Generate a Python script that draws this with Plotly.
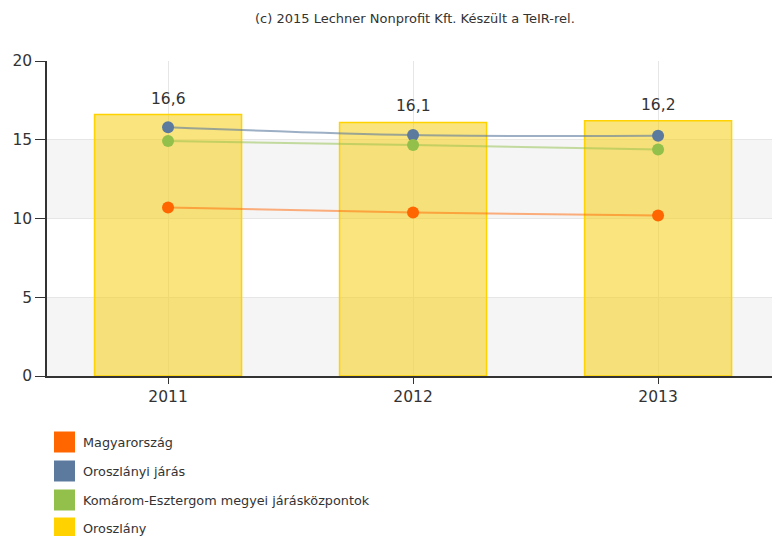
import plotly.graph_objects as go

years = ["2011", "2012", "2013"]
oroszlany = [16.6, 16.1, 16.2]
oroszlanyi_jaras = [15.8, 15.3, 15.25]
komarom = [14.92, 14.67, 14.38]
magyarorszag = [10.7, 10.38, 10.19]

legend_labels = ["Magyarország", "Oroszlányi járás",
                 "Komárom-Esztergom megyei járásközpontok", "Oroszlány"]
legend_colors = ["#FF6600", "#5C7A9E", "#92C04A", "#FFD200"]

y_ticks = [0, 5, 10, 15, 20]

FONT = "DejaVu Sans"

fig = go.Figure()

fig.add_trace(go.Bar(
    x=years, y=oroszlany, width=0.6,
    marker=dict(color="rgba(245,205,20,0.55)", line=dict(color="#FFD200", width=1.5)),
    showlegend=False, name="Oroszlány",
))

series = [
    (oroszlanyi_jaras, "rgba(92,122,158,0.6)", "#5C7A9E", "Oroszlányi járás"),
    (komarom, "rgba(146,192,74,0.5)", "#92C04A", "Komárom-Esztergom megyei járásközpontok"),
    (magyarorszag, "rgba(255,102,0,0.5)", "#FF6600", "Magyarország"),
]
for vals, lc, mc, nm in series:
    fig.add_trace(go.Scatter(
        x=years, y=vals, mode="lines+markers", name=nm,
        line=dict(color=lc, width=2, shape="spline"),
        marker=dict(color=mc, size=12),
        showlegend=False,
    ))

# plot area in page pixels: x 47..772, y 61..376
W = 725.0
H = 315.0

shapes = []
for lo, hi in [(0, 5), (10, 15)]:
    shapes.append(dict(type="rect", xref="paper", yref="y", x0=0, x1=1, y0=lo, y1=hi,
                       fillcolor="#F5F5F5", line=dict(width=0), layer="below"))

annotations = [dict(text="(c) 2015 Lechner Nonprofit Kft. Készült a TeIR-rel.",
                    xref="paper", yref="paper", x=(415 - 47) / W, y=(376 - 18) / H,
                    showarrow=False, font=dict(family=FONT, size=13, color="#333333"),
                    xanchor="center", yanchor="middle")]

for i, v in enumerate(oroszlany):
    annotations.append(dict(x=i, y=v, xref="x", yref="y",
                            text=f"{v:.1f}".replace(".", ","), showarrow=False,
                            yshift=16, yanchor="middle",
                            font=dict(family=FONT, size=15.5, color="#333333")))

row_y = [442, 471, 500, 528]
for i, (lab, col) in enumerate(zip(legend_labels, legend_colors)):
    yc = row_y[i]
    shapes.append(dict(type="rect", xref="paper", yref="paper",
                       x0=(54 - 47) / W, x1=(75 - 47) / W,
                       y0=(376 - (yc + 10.5)) / H, y1=(376 - (yc - 10.5)) / H,
                       fillcolor=col, line=dict(width=0)))
    annotations.append(dict(text=lab, xref="paper", yref="paper",
                            x=(81 - 47) / W, y=(376 - yc) / H,
                            xanchor="left", yanchor="middle", showarrow=False,
                            font=dict(family=FONT, size=12.8, color="#333333")))

fig.update_layout(
    width=772, height=536,
    margin=dict(l=47, r=0, t=61, b=160),
    plot_bgcolor="rgba(0,0,0,0)", paper_bgcolor="white",
    separators=", ",
    shapes=shapes, annotations=annotations,
    font=dict(family=FONT, color="#333333"),
    xaxis=dict(type="category", range=[-0.494, 2.465],
               showgrid=True, gridcolor="#E6E6E6", gridwidth=1,
               showline=True, linecolor="#333333", linewidth=1.5,
               ticks="outside", ticklen=6, tickcolor="#333333",
               tickfont=dict(family=FONT, size=15.5, color="#333333"),
               fixedrange=True, zeroline=False),
    yaxis=dict(range=[0, 20], tickvals=y_ticks,
               showgrid=True, gridcolor="#E6E6E6", gridwidth=1,
               showline=True, linecolor="#333333", linewidth=1.5,
               ticks="outside", ticklen=10, tickcolor="#333333",
               tickfont=dict(family=FONT, size=15.5, color="#333333"),
               zeroline=False, fixedrange=True),
)

fig.write_html("out.html", config={"displayModeBar": False},
               post_script="document.body.style.margin='0';document.body.style.overflow='hidden';")
